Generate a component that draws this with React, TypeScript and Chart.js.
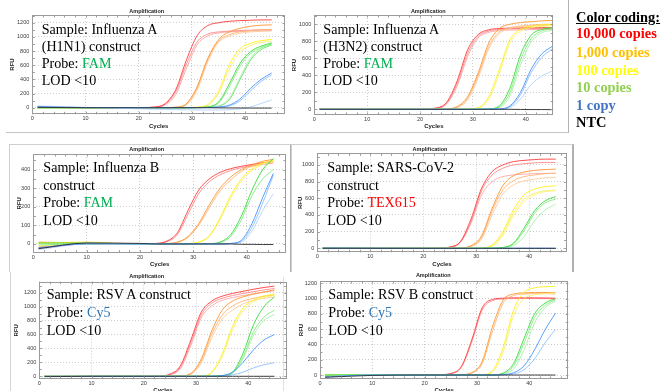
import React, { useEffect, useRef } from 'react';
import { Chart, registerables } from 'chart.js';

Chart.register(...registerables);

// ---------- shared axes ----------
const CYCLES = [1, 10, 20, 23, 25, 27, 29, 31, 33, 35, 37, 39, 41, 43, 45];
const X_TICKS = [0, 10, 20, 30, 40];
const Y_TICKS_1200 = [0, 200, 400, 600, 800, 1000, 1200];
const Y_TICKS_1000 = [0, 200, 400, 600, 800, 1000];
const Y_TICKS_400 = [0, 100, 200, 300, 400];

// ---------- Influenza A (H1N1) ----------
const H1N1_RED = [
  [10, 2, 0, 10, 60, 260, 680, 1020, 1160, 1200, 1220, 1230, 1235, 1240, 1240],
  [5, 0, 0, 8, 50, 230, 620, 930, 1040, 1070, 1080, 1090, 1095, 1100, 1100],
  [0, 0, -2, 6, 40, 190, 560, 890, 1015, 1055, 1070, 1078, 1082, 1085, 1088],
];
const H1N1_ORANGE = [
  [5, 0, 0, 0, 2, 8, 60, 300, 700, 960, 1070, 1120, 1150, 1165, 1170],
  [0, 0, 0, 0, 2, 6, 50, 280, 680, 940, 1030, 1070, 1090, 1100, 1105],
  [0, 0, -2, 0, 1, 5, 40, 250, 650, 920, 1010, 1050, 1070, 1080, 1085],
];
const H1N1_YELLOW = [
  [0, 0, 0, 0, 0, 0, 2, 8, 45, 230, 600, 830, 910, 945, 965],
  [0, 0, 0, 0, 0, 0, 1, 5, 35, 200, 540, 780, 880, 920, 940],
];
const H1N1_GREEN = [
  [0, 0, 0, 0, 0, 0, 0, 3, 12, 80, 330, 620, 790, 870, 915],
  [0, 0, 0, 0, 0, 0, 0, 2, 10, 65, 290, 580, 760, 850, 900],
  [0, 0, 0, 0, 0, 0, 0, 1, 5, 25, 130, 420, 700, 840, 900],
  [0, 0, 0, 0, 0, 0, 0, 1, 4, 20, 110, 390, 670, 820, 885],
];
const H1N1_BLUE = [
  [15, 2, 0, 0, 0, 0, 0, 1, 3, 10, 35, 120, 270, 400, 490],
  [10, 0, 0, 0, 0, 0, 0, 0, 2, 8, 25, 95, 235, 370, 465],
  [25, 5, -15, -22, -25, -28, -30, -32, -32, -32, -28, -18, 10, 60, 110],
];
const H1N1_NTC = [[5, 0, 0, 0, 0, 0, 0, 0, 0, -2, -3, -4, -5, -5, -5]];

// ---------- Influenza A (H3N2) ----------
const H3N2_RED = [
  [5, 0, 0, 15, 80, 330, 700, 880, 935, 950, 955, 958, 960, 960, 960],
  [0, 0, 0, 12, 70, 300, 660, 860, 920, 940, 945, 948, 950, 950, 950],
  [0, 0, 0, 10, 60, 270, 620, 840, 905, 925, 932, 935, 937, 938, 940],
];
const H3N2_ORANGE = [
  [10, 0, 0, 0, 5, 30, 150, 430, 780, 950, 1000, 1020, 1030, 1040, 1045],
  [5, 0, 0, 0, 4, 25, 130, 400, 740, 910, 960, 980, 990, 1000, 1000],
  [0, 0, 0, 0, 3, 20, 110, 370, 710, 890, 950, 970, 980, 985, 990],
];
const H3N2_YELLOW = [
  [0, 0, 0, 0, 0, 1, 3, 20, 150, 470, 820, 940, 975, 990, 1000],
  [0, 0, 0, 0, 0, 1, 2, 15, 120, 420, 780, 920, 960, 975, 985],
];
const H3N2_GREEN = [
  [0, 0, 0, 0, 0, 0, 0, 1, 5, 40, 250, 640, 870, 940, 960],
  [0, 0, 0, 0, 0, 0, 0, 1, 4, 30, 200, 580, 830, 920, 950],
  [0, 0, 0, 0, 0, 0, 0, 0, 3, 20, 160, 520, 790, 900, 930],
];
const H3N2_BLUE = [
  [0, 0, 0, 0, 0, 0, 0, 0, 1, 5, 40, 200, 470, 650, 740],
  [0, 0, 0, 0, 0, 0, 0, 0, 1, 3, 30, 170, 430, 610, 710],
  [0, 0, 0, 0, 0, 0, 0, 0, 0, 2, 20, 120, 290, 390, 450],
];
const H3N2_NTC = [[0, 0, 0, 0, 0, 0, 0, 0, 0, 0, 0, -2, -3, -3, -4]];

// ---------- Influenza B ----------
const FLUB_RED = [
  [-20, 5, 0, 3, 15, 60, 180, 290, 350, 385, 405, 418, 428, 437, 445],
  [-25, 0, 0, 2, 12, 50, 160, 270, 335, 372, 395, 410, 420, 428, 435],
];
const FLUB_ORANGE = [
  [10, 5, 0, 0, 2, 10, 40, 110, 210, 300, 360, 400, 425, 445, 455],
  [-15, 0, 0, 0, 2, 8, 35, 100, 195, 285, 345, 390, 418, 435, 442],
];
const FLUB_YELLOW = [
  [5, 10, 0, 0, 0, 0, 2, 10, 45, 140, 260, 350, 405, 435, 450],
  [-10, 0, 0, 0, 0, 0, 2, 8, 40, 130, 245, 338, 395, 428, 445],
];
const FLUB_GREEN = [
  [5, 5, 0, 0, 0, 0, 0, 2, 2, 10, 50, 150, 290, 400, 460],
  [-5, 0, 0, 0, 0, 0, 0, 1, 2, 8, 40, 130, 260, 350, 400],
];
const FLUB_BLUE = [
  [-20, 0, 0, 0, 0, 0, 0, 0, 0, 0, 3, 20, 110, 250, 380],
  [-25, 5, 0, 0, 0, 0, 0, 0, 0, 0, 2, 15, 90, 220, 370],
  [-30, 0, 0, 0, 0, 0, 0, 0, 0, 0, 2, 10, 70, 180, 270],
];
const FLUB_NTC = [[-25, 5, 3, 0, 0, 0, 0, 0, 0, 0, 0, -2, -2, -3, -3]];

// ---------- SARS-CoV-2 ----------
const SARS_RED = [
  [0, 0, 0, 3, 15, 80, 350, 720, 920, 1000, 1040, 1055, 1065, 1070, 1070],
  [0, 0, 0, 3, 14, 75, 320, 690, 880, 960, 1000, 1015, 1025, 1030, 1030],
  [0, 0, 0, 2, 12, 70, 300, 640, 800, 860, 880, 890, 895, 900, 900],
];
const SARS_ORANGE = [
  [0, 0, 0, 0, 1, 5, 30, 150, 480, 750, 870, 915, 935, 945, 950],
  [0, 0, 0, 0, 1, 4, 25, 130, 450, 700, 810, 860, 880, 895, 900],
  [0, 0, 0, 0, 1, 3, 20, 110, 400, 650, 760, 810, 830, 845, 850],
];
const SARS_YELLOW = [
  [0, 0, 0, 0, 0, 0, 1, 5, 40, 200, 460, 640, 710, 740, 750],
  [0, 0, 0, 0, 0, 0, 1, 4, 30, 170, 420, 590, 660, 690, 700],
  [0, 0, 0, 0, 0, 0, 0, 3, 25, 150, 390, 560, 640, 680, 690],
];
const SARS_GREEN = [
  [0, 0, 0, 0, 0, 0, 0, 0, 2, 10, 60, 240, 450, 570, 620],
  [0, 0, 0, 0, 0, 0, 0, 0, 2, 8, 50, 210, 420, 545, 590],
  [0, 0, 0, 0, 0, 0, 0, 0, 1, 5, 30, 140, 330, 460, 530],
];
const SARS_BLUE = [
  [5, 2, 0, 0, 0, 0, 0, 0, 0, 0, 0, 0, 0, 0, 0],
  [-5, 0, 0, 0, 0, 0, 0, 0, 0, 0, 0, 0, 0, 0, -2],
];
const SARS_NTC = [[0, 0, 0, 0, 0, 0, 0, 0, 0, 0, 0, 0, 0, 0, 0]];

// ---------- RSV A ----------
const RSVA_RED = [
  [0, 0, 0, 5, 30, 150, 520, 920, 1080, 1150, 1190, 1220, 1250, 1275, 1295],
  [0, 0, 0, 4, 25, 130, 480, 880, 1050, 1120, 1160, 1190, 1215, 1240, 1260],
  [0, 0, 0, 3, 20, 110, 440, 840, 1010, 1090, 1130, 1160, 1185, 1210, 1230],
];
const RSVA_ORANGE = [
  [0, 0, 0, 0, 1, 5, 40, 250, 650, 950, 1080, 1140, 1180, 1210, 1240],
  [0, 0, 0, 0, 1, 4, 35, 220, 600, 880, 1010, 1080, 1120, 1150, 1170],
  [0, 0, 0, 0, 1, 3, 30, 190, 550, 820, 950, 1040, 1090, 1120, 1140],
];
const RSVA_YELLOW = [
  [0, 0, 0, 0, 0, 0, 1, 5, 60, 320, 720, 980, 1100, 1150, 1180],
  [0, 0, 0, 0, 0, 0, 1, 4, 50, 280, 670, 940, 1070, 1130, 1165],
];
const RSVA_GREEN = [
  [0, 0, 0, 0, 0, 0, 0, 0, 2, 10, 60, 330, 740, 1000, 1140],
  [0, 0, 0, 0, 0, 0, 0, 0, 2, 8, 50, 280, 640, 850, 950],
  [0, 0, 0, 0, 0, 0, 0, 0, 1, 5, 40, 250, 590, 800, 890],
];
const RSVA_BLUE = [
  [0, 0, 0, 0, 0, 0, 0, 0, 0, 10, 60, 200, 380, 520, 600],
  [0, 0, 0, 0, 0, 0, 0, 0, 0, 5, 20, 60, 120, 165, 195],
];
const RSVA_NTC = [[-5, 0, 0, 0, 0, 0, 0, 0, 0, 0, 0, 0, 0, 0, 0]];

// ---------- RSV B ----------
const RSVB_RED = [
  [-20, 0, 0, 5, 20, 110, 460, 880, 990, 1005, 1010, 1010, 1010, 1008, 1005],
  [-15, 0, 0, 4, 18, 100, 430, 850, 975, 995, 1000, 1002, 1000, 1000, 998],
];
const RSVB_ORANGE = [
  [0, 0, 0, 0, 1, 5, 30, 180, 640, 980, 1060, 1075, 1080, 1080, 1075],
  [0, 0, 0, 0, 1, 4, 25, 150, 580, 940, 1040, 1060, 1065, 1065, 1060],
];
const RSVB_YELLOW = [
  [0, 0, 0, 0, 0, 0, 1, 5, 60, 360, 850, 1080, 1140, 1155, 1160],
  [0, 0, 0, 0, 0, 0, 1, 4, 40, 300, 780, 1000, 1050, 1065, 1070],
];
const RSVB_GREEN = [
  [0, 0, 0, 0, 0, 0, 0, 0, 2, 25, 150, 480, 800, 940, 1000],
  [0, 0, 0, 0, 0, 0, 0, 0, 2, 20, 120, 420, 750, 910, 985],
  [0, 0, 0, 0, 0, 0, 0, 0, 1, 12, 80, 330, 680, 880, 970],
];
const RSVB_BLUE = [
  [-25, 0, 0, 0, 0, 0, 0, 0, 0, 5, 30, 120, 330, 590, 810],
  [-20, 0, 0, 0, 0, 0, 0, 0, 0, 3, 15, 70, 210, 420, 600],
];
const RSVB_NTC = [[-30, -5, 0, 0, 0, 0, 0, 0, 0, 0, 0, 0, 0, 0, 0]];

// ---------- legend ----------
const LEGEND_TITLE = 'Color coding:';
const LEGEND_LABELS = ['10,000 copies', '1,000 copies', '100 copies', '10 copies', '1 copy', 'NTC'];

// ---------- styles ----------
const SHADES: Record<string, string[]> = {
  red: ['#ff3b3b', '#ff8a8a', '#ffa6a6', '#ff6a6a'],
  orange: ['#ff9430', '#ffb574', '#ffcda0'],
  yellow: ['#ffee1a', '#f6f170', '#fff46e'],
  green: ['#36dd36', '#84eb84', '#a8f1a8', '#5fe35f'],
  blue: ['#4595ff', '#90c0ff', '#b3d3ff'],
  ntc: ['#2a2a2a'],
};
const LEGEND_COLORS = ['#ff0000', '#ffc000', '#ffff00', '#92d050', '#4472c4', '#000000'];
const SANS = '"Liberation Sans", Arial, sans-serif';
const SERIF = '"Liberation Serif", "Times New Roman", serif';
const XH = 15.3;

type Seg = [string, string?];
type Spec = {
  L: number; T: number; R: number; B: number; rfuX: number;
  xMax: number; yMin: number; yMax: number; yTicks: number[]; yMinor: number;
  titleX: number; titleY: number;
  series: Record<string, number[][]>;
  textX: number; textY: number; textLH: number; lines: Seg[][];
};

const FAM = '#00b050';
const CY5 = '#2e75b6';

const PANELS: Spec[] = [
  {
    L: 32.3, T: 15, R: 285, B: 114.3, rfuX: 12, xMax: 47.5, yMin: -93, yMax: 1309,
    yTicks: Y_TICKS_1200, yMinor: 100, titleX: 146.7, titleY: 11,
    series: { red: H1N1_RED, orange: H1N1_ORANGE, yellow: H1N1_YELLOW, green: H1N1_GREEN, blue: H1N1_BLUE, ntc: H1N1_NTC },
    textX: 41.7, textY: 21, textLH: 17,
    lines: [[['Sample: Influenza A']], [['(H1N1) construct']], [['Probe: '], ['FAM', FAM]], [['LOD <10']]],
  },
  {
    L: 314.3, T: 15, R: 553.3, B: 115, rfuX: 294, xMax: 45.2, yMin: -67, yMax: 1109,
    yTicks: Y_TICKS_1000, yMinor: 100, titleX: 428.3, titleY: 11,
    series: { red: H3N2_RED, orange: H3N2_ORANGE, yellow: H3N2_YELLOW, green: H3N2_GREEN, blue: H3N2_BLUE, ntc: H3N2_NTC },
    textX: 323.3, textY: 21, textLH: 17,
    lines: [[['Sample: Influenza A']], [['(H3N2) construct']], [['Probe: '], ['FAM', FAM]], [['LOD <10']]],
  },
  {
    L: 33.3, T: 154, R: 286, B: 252.7, rfuX: 19, xMax: 47.37, yMin: -47, yMax: 484,
    yTicks: Y_TICKS_400, yMinor: 50, titleX: 146.7, titleY: 149,
    series: { red: FLUB_RED, orange: FLUB_ORANGE, yellow: FLUB_YELLOW, green: FLUB_GREEN, blue: FLUB_BLUE, ntc: FLUB_NTC },
    textX: 43.3, textY: 159, textLH: 17.5,
    lines: [[['Sample: Influenza B']], [['construct']], [['Probe: '], ['FAM', FAM]], [['LOD <10']]],
  },
  {
    L: 317.3, T: 153.3, R: 566.7, B: 252.3, rfuX: 300, xMax: 47.06, yMin: -48, yMax: 1140,
    yTicks: Y_TICKS_1000, yMinor: 100, titleX: 430, titleY: 149.3,
    series: { red: SARS_RED, orange: SARS_ORANGE, yellow: SARS_YELLOW, green: SARS_GREEN, blue: SARS_BLUE, ntc: SARS_NTC },
    textX: 327.3, textY: 159, textLH: 17.5,
    lines: [[['Sample: SARS-CoV-2']], [['construct']], [['Probe: '], ['TEX615', '#ff0000']], [['LOD <10']]],
  },
  {
    L: 39.3, T: 281.7, R: 286.7, B: 379, rfuX: 16, xMax: 47.35, yMin: -39, yMax: 1358,
    yTicks: Y_TICKS_1200, yMinor: 100, titleX: 146.7, titleY: 276,
    series: { red: RSVA_RED, orange: RSVA_ORANGE, yellow: RSVA_YELLOW, green: RSVA_GREEN, blue: RSVA_BLUE, ntc: RSVA_NTC },
    textX: 46.7, textY: 286.4, textLH: 17.6,
    lines: [[['Sample: RSV A construct']], [['Probe: '], ['Cy5', CY5]], [['LOD <10']]],
  },
  {
    L: 320, T: 281, R: 568.3, B: 379, rfuX: 301, xMax: 47.45, yMin: -52, yMax: 1230,
    yTicks: Y_TICKS_1200, yMinor: 100, titleX: 433.3, titleY: 275.7,
    series: { red: RSVB_RED, orange: RSVB_ORANGE, yellow: RSVB_YELLOW, green: RSVB_GREEN, blue: RSVB_BLUE, ntc: RSVB_NTC },
    textX: 328.3, textY: 286.4, textLH: 17.6,
    lines: [[['Sample: RSV B construct']], [['Probe: '], ['Cy5', CY5]], [['LOD <10']]],
  },
];

const DRAW_ORDER = ['ntc', 'blue', 'green', 'yellow', 'orange', 'red'];

function AmpChart({ spec }: { spec: Spec }) {
  const ref = useRef<HTMLCanvasElement>(null);
  const left = Math.floor(spec.rfuX - 3.6);
  const top = Math.floor(spec.T - 9);
  const yw = spec.L - left;
  const width = Math.ceil(spec.R - left) + 2;
  const height = Math.ceil(spec.B + XH - top) + 1;

  useEffect(() => {
    if (!ref.current) return;
    const datasets: any[] = [];
    for (const key of DRAW_ORDER) {
      const curves = spec.series[key];
      curves.forEach((vals, i) => {
        datasets.push({
          data: vals.map((v, j) => ({ x: CYCLES[j], y: v })),
          borderColor: SHADES[key][i % SHADES[key].length],
          borderWidth: 0.9,
          pointRadius: 0,
          fill: false,
          cubicInterpolationMode: 'monotone',
        });
      });
    }
    const frame = {
      id: 'frameTicks',
      afterDraw(chart: any) {
        const { ctx, chartArea: a, scales } = chart;
        const xs = scales.x;
        const ys = scales.y;
        ctx.save();
        ctx.strokeStyle = '#9a9a9a';
        ctx.lineWidth = 1;
        ctx.strokeRect(Math.round(a.left) + 0.5, Math.round(a.top) + 0.5,
          Math.round(a.right) - Math.round(a.left) - 1, Math.round(a.bottom) - Math.round(a.top) - 1);
        ctx.beginPath();
        for (let v = 0; v <= spec.xMax; v += 2) {
          const px = Math.round(xs.getPixelForValue(v)) + 0.5;
          ctx.moveTo(px, a.bottom); ctx.lineTo(px, a.bottom - 2.5);
          ctx.moveTo(px, a.top); ctx.lineTo(px, a.top + 2.5);
        }
        for (let v = Math.ceil(spec.yMin / spec.yMinor) * spec.yMinor; v <= spec.yMax; v += spec.yMinor) {
          const py = Math.round(ys.getPixelForValue(v)) + 0.5;
          ctx.moveTo(a.left, py); ctx.lineTo(a.left + 2.5, py);
          ctx.moveTo(a.right, py); ctx.lineTo(a.right - 2.5, py);
        }
        ctx.stroke();
        ctx.restore();
      },
    };
    const tickFont = { size: 5.5, family: SANS };
    const titleFont = { size: 6, weight: 'bold' as const, family: SANS };
    const chart = new Chart(ref.current, {
      type: 'line',
      data: { datasets },
      options: {
        animation: false,
        responsive: false,
        maintainAspectRatio: false,
        devicePixelRatio: 1,
        layout: {
          padding: {
            left: 0,
            top: spec.T - top,
            right: width - (spec.R - left),
            bottom: height - (spec.B + XH - top),
          },
        },
        plugins: { legend: { display: false }, tooltip: { enabled: false }, title: { display: false } },
        scales: {
          x: {
            type: 'linear',
            min: 0,
            max: spec.xMax,
            afterBuildTicks: (axis: any) => { axis.ticks = X_TICKS.map((value) => ({ value })); },
            afterFit: (axis: any) => { axis.height = XH; },
            grid: { color: '#cdcdcd', lineWidth: 1, drawTicks: false },
            border: { display: false, dash: [1, 2] },
            ticks: { font: tickFont, color: '#3a3a3a', padding: 1, maxRotation: 0, autoSkip: false, callback: (v: any) => String(v) },
            title: { display: true, text: 'Cycles', font: titleFont, color: '#222', padding: 0 },
          },
          y: {
            type: 'linear',
            min: spec.yMin,
            max: spec.yMax,
            afterBuildTicks: (axis: any) => { axis.ticks = spec.yTicks.map((value) => ({ value })); },
            afterFit: (axis: any) => { axis.width = yw; },
            grid: { color: '#cdcdcd', lineWidth: 1, drawTicks: false },
            border: { display: false, dash: [1, 2] },
            ticks: { font: tickFont, color: '#3a3a3a', padding: 3, autoSkip: false, callback: (v: any) => String(v) },
            title: { display: true, text: 'RFU', font: titleFont, color: '#222', padding: { top: spec.rfuX - left - 3.6, bottom: 0 } },
          },
        },
      } as any,
      plugins: [frame],
    });
    return () => chart.destroy();
  }, []);

  return (
    <canvas
      ref={ref}
      width={width}
      height={height}
      style={{ position: 'absolute', left, top, width, height }}
    />
  );
}

function PanelText({ spec }: { spec: Spec }) {
  return (
    <div style={{
      position: 'absolute', left: spec.textX, top: spec.textY, fontFamily: SERIF,
      fontSize: 14.1, lineHeight: `${spec.textLH}px`, color: '#000', whiteSpace: 'pre',
    }}>
      {spec.lines.map((line, i) => (
        <div key={i}>
          {line.map((seg, k) => (
            <span key={k} style={{ color: seg[1] || '#000' }}>{seg[0]}</span>
          ))}
        </div>
      ))}
    </div>
  );
}

function PanelTitle({ spec }: { spec: Spec }) {
  return (
    <div style={{
      position: 'absolute', left: spec.titleX - 40, width: 80, top: spec.titleY - 3.5,
      height: 7, lineHeight: '7px', textAlign: 'center', fontFamily: SANS, fontSize: 5.5,
      fontWeight: 'bold', color: '#222',
    }}>Amplification</div>
  );
}

const LEGEND_CENTERS = [34.3, 52.8, 70.5, 88.2, 105.8, 123.3];

export default function App() {
  const line = (style: React.CSSProperties) => <div style={{ position: 'absolute', ...style }} />;
  return (
    <div style={{ position: 'absolute', left: 0, top: 0, width: 667, height: 391, overflow: 'hidden', background: '#fff' }}>
      {/* panel frames */}
      {line({ left: 6, top: 132, width: 562, height: 0, borderTop: '1px solid #c4c4c4' })}
      {line({ left: 568, top: 0, width: 0, height: 133, borderLeft: '1px solid #b4b4b4' })}
      {line({ left: 9, top: 144, width: 280, height: 127, borderTop: '1px solid #cfcfcf', borderLeft: '1px solid #cfcfcf', borderRight: '2px solid #b0b0b0' })}
      {line({ left: 291, top: 144, width: 280, height: 127, borderTop: '1px solid #cfcfcf', borderLeft: '1px solid #cfcfcf', borderRight: '2px solid #b0b0b0' })}
      {line({ left: 10, top: 272, width: 0, height: 119, borderLeft: '1px solid #d4d4d4' })}
      {line({ left: 283, top: 277, width: 0, height: 114, borderLeft: '1px solid #e0e0e0' })}

      {PANELS.map((p, i) => <AmpChart key={'c' + i} spec={p} />)}
      {PANELS.map((p, i) => <PanelTitle key={'t' + i} spec={p} />)}
      {PANELS.map((p, i) => <PanelText key={'x' + i} spec={p} />)}

      <div style={{
        position: 'absolute', left: 576, top: 18.3 - 9, lineHeight: '17px', fontFamily: SERIF,
        fontSize: 14.4, fontWeight: 'bold', color: '#000', textDecoration: 'underline', whiteSpace: 'pre',
      }}>{LEGEND_TITLE}</div>
      {LEGEND_LABELS.map((label, i) => (
        <div key={label} style={{
          position: 'absolute', left: 576, top: LEGEND_CENTERS[i] - 9, lineHeight: '17px', fontFamily: SERIF,
          fontSize: 14.4, fontWeight: 'bold', color: LEGEND_COLORS[i], whiteSpace: 'pre',
        }}>{label}</div>
      ))}
    </div>
  );
}
